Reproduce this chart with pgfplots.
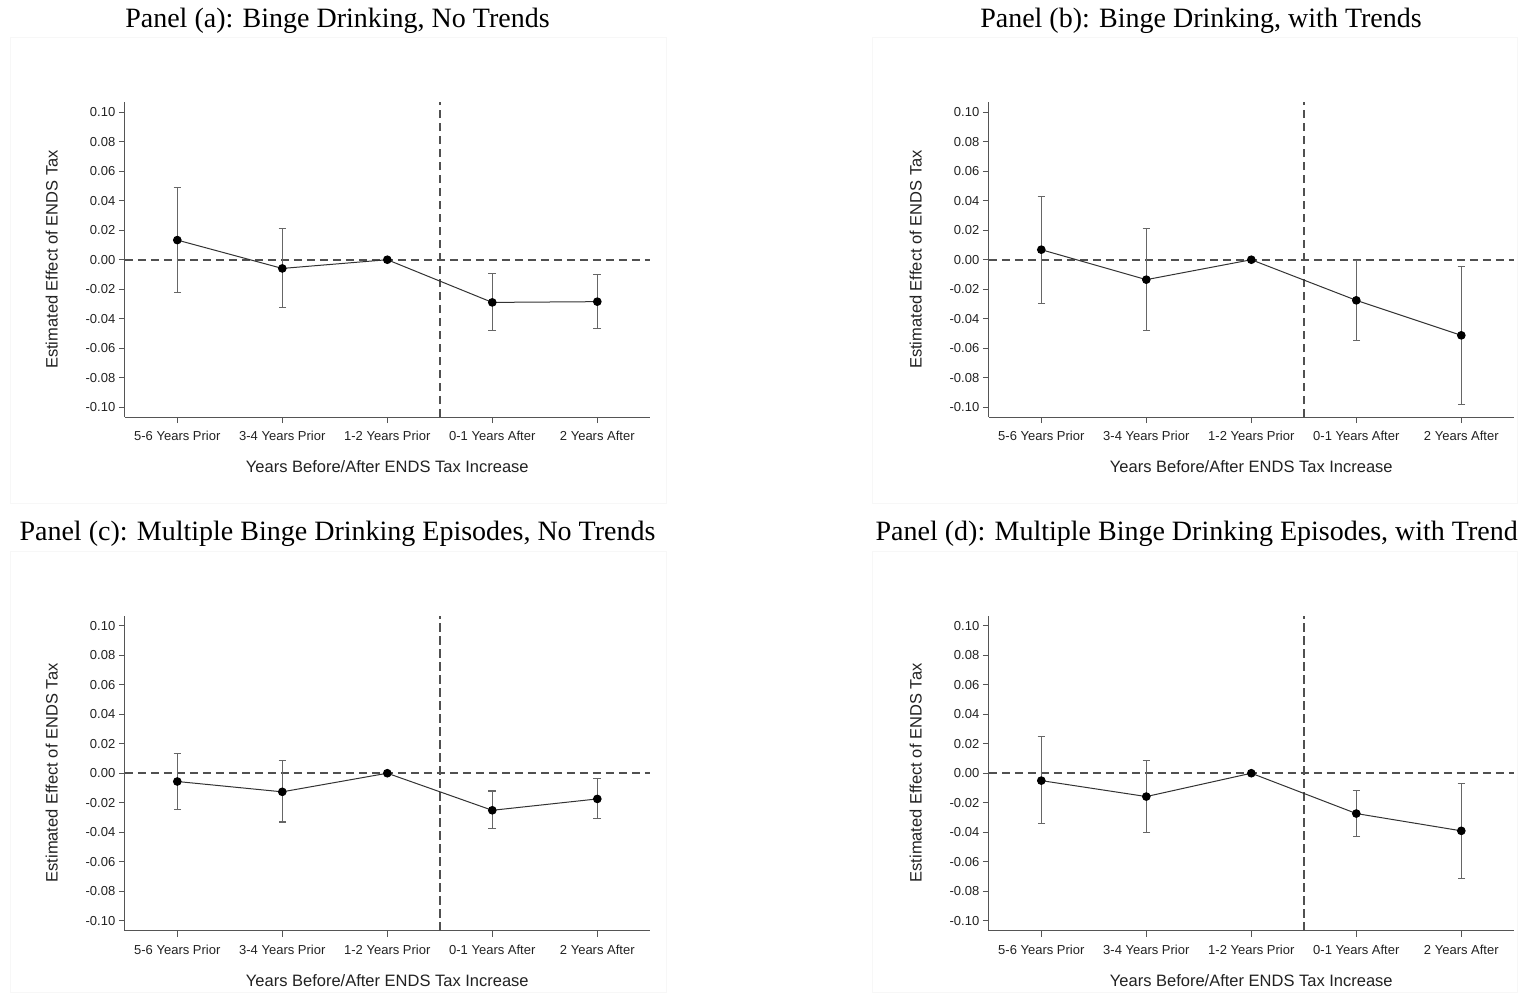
\documentclass[border=0pt]{standalone}
\usepackage{fontspec}
\setmainfont{Liberation Sans}
\newfontfamily\titlefont{Liberation Serif}
\usepackage{pgfplots}
\usepackage{pgfplotstable}
\pgfplotsset{compat=1.18}

\definecolor{axisgray}{HTML}{555555}
\definecolor{dashgray}{HTML}{505050}
\definecolor{bargray}{HTML}{666666}
\definecolor{linegray}{HTML}{333333}
\definecolor{textgray}{HTML}{222222}

% x: 0 = 5-6 Years Prior ... 4 = 2 Years After
\pgfplotstableread{
x y lo hi
0 0.0133 -0.0221 0.0488
1 -0.0059 -0.0325 0.0210
2 0 0 0
3 -0.0289 -0.0479 -0.0095
4 -0.0284 -0.0465 -0.0099
}\dataA
\pgfplotstableread{
x y lo hi
0 0.0068 -0.0296 0.0431
1 -0.0135 -0.0479 0.0212
2 0 0 0
3 -0.0275 -0.0546 -0.0005
4 -0.0512 -0.0980 -0.0043
}\dataB
\pgfplotstableread{
x y lo hi
0 -0.0056 -0.0246 0.0133
1 -0.0126 -0.0330 0.0084
2 0 0 0
3 -0.0251 -0.0377 -0.0120
4 -0.0174 -0.0307 -0.0038
}\dataC
\pgfplotstableread{
x y lo hi
0 -0.0050 -0.0343 0.0248
1 -0.0158 -0.0400 0.0084
2 0 0 0
3 -0.0273 -0.0427 -0.0115
4 -0.0390 -0.0711 -0.0068
}\dataD

\pgfplotsset{
  panel/.style={
    scale only axis, width=525pt, height=315pt,
    anchor=south west,
    xmin=-0.5, xmax=4.5, ymin=-0.1065, ymax=0.1068,
    axis x line*=bottom, axis y line*=left,
    axis line style={-, draw=axisgray, line width=1pt},
    xtick={0,1,2,3,4},
    xticklabels={5-6 Years Prior,3-4 Years Prior,1-2 Years Prior,0-1 Years After,2 Years After},
    ytick={-0.10,-0.08,-0.06,-0.04,-0.02,0,0.02,0.04,0.06,0.08,0.10},
    yticklabels={-0.10,-0.08,-0.06,-0.04,-0.02,0.00,0.02,0.04,0.06,0.08,0.10},
    tick align=outside, major tick length=6pt,
    tick style={draw=axisgray, line width=1pt},
    tick label style={font=\fontsize{13}{15}\selectfont, text=textgray},
    xticklabel style={yshift=-5pt},
    xlabel={Years Before/After ENDS Tax Increase},
    ylabel={Estimated Effect of ENDS Tax},
    label style={font=\fontsize{16.5}{19}\selectfont, text=textgray},
    xlabel style={at={(axis description cs:0.5,-0.159)}, anchor=center},
    ylabel style={at={(axis description cs:-0.139,0.5)}, anchor=center},
    clip=false,
  },
  refdash/.style={draw=dashgray, line width=1.8pt, dash pattern=on 8.5pt off 4.5pt, mark=none, forget plot},
}

\newcommand{\panelplots}[1]{%
  \addplot[refdash] coordinates {(-0.5,0) (4.5,0)};
  \addplot[refdash] coordinates {(2.5,-0.1065) (2.5,0.1068)};
  \addplot[draw=none, mark=none, forget plot, skip coords between index={2}{3},
    error bars/.cd, y dir=both, y explicit,
    error bar style={draw=bargray, line width=1.1pt, solid},
    error mark options={draw=bargray, line width=1.1pt, mark size=3.8pt, rotate=90, solid}]
    table[x=x, y=y, y error plus expr=\thisrow{hi}-\thisrow{y}, y error minus expr=\thisrow{y}-\thisrow{lo}] {#1};
  \addplot[draw=linegray, line width=1pt, mark=*, mark size=3.8pt,
    mark options={fill=black, draw=black, solid}] table[x=x, y=y] {#1};
}

\begin{document}
\begin{tikzpicture}
\useasboundingbox (0,0) rectangle (1518pt,-993pt);
\fill[white] (0,0) rectangle (1518pt,-993pt);
% faint panel frames
\draw[black!3, line width=0.8pt] (10pt,-37pt) rectangle (666pt,-503pt);
\draw[black!3, line width=0.8pt] (872pt,-37pt) rectangle (1517pt,-503pt);
\draw[black!3, line width=0.8pt] (10pt,-551pt) rectangle (666pt,-992pt);
\draw[black!3, line width=0.8pt] (872pt,-551pt) rectangle (1517pt,-992pt);

\node[font=\titlefont\fontsize{28}{30}\selectfont, inner sep=0pt] at (337.5pt,-20.5pt) {Panel (a): Binge Drinking, No Trends};
\node[font=\titlefont\fontsize{28}{30}\selectfont, inner sep=0pt] at (1201pt,-20.5pt) {Panel (b): Binge Drinking, with Trends};
\node[font=\titlefont\fontsize{28}{30}\selectfont, inner sep=0pt] at (337.5pt,-533.5pt) {Panel (c): Multiple Binge Drinking Episodes, No Trends};
\node[font=\titlefont\fontsize{28}{30}\selectfont, inner sep=0pt, anchor=east] at (1518pt,-533.5pt) {Panel (d): Multiple Binge Drinking Episodes, with Trend};

\begin{axis}[panel, at={(124.8pt,-417pt)}]
\panelplots{\dataA}
\end{axis}
\begin{axis}[panel, at={(988.8pt,-417pt)}]
\panelplots{\dataB}
\end{axis}
\begin{axis}[panel, at={(124.8pt,-930.5pt)}]
\panelplots{\dataC}
\end{axis}
\begin{axis}[panel, at={(988.8pt,-930.5pt)}]
\panelplots{\dataD}
\end{axis}
\end{tikzpicture}
\end{document}
